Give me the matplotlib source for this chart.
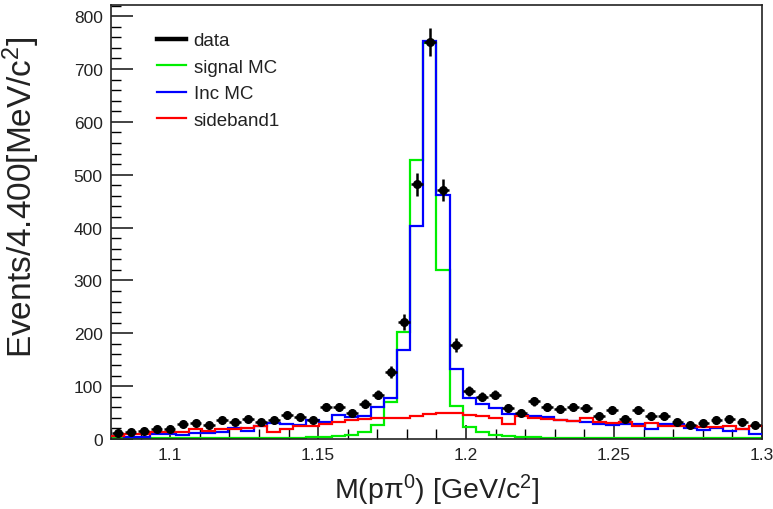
import numpy as np
import matplotlib
matplotlib.use("Agg")
import matplotlib.pyplot as plt
from matplotlib.lines import Line2D
from matplotlib.ticker import MultipleLocator

plt.rcParams['font.family'] = ['Liberation Sans', 'DejaVu Sans']
plt.rcParams['mathtext.fontset'] = 'custom'
plt.rcParams['mathtext.rm'] = 'Liberation Sans'
plt.rcParams['mathtext.it'] = 'Liberation Sans:italic'

x_min, x_max, n_bins = 1.08, 1.30, 50
edges = np.linspace(x_min, x_max, n_bins + 1)
centers = 0.5 * (edges[:-1] + edges[1:])

data = [11, 14, 16, 18, 18, 28, 30, 26, 35, 32,
        38, 32, 35, 45, 41, 36, 60, 60, 49, 67,
        84, 127, 222, 482, 751, 471, 178, 91, 80, 84,
        59, 50, 71, 60, 57, 60, 58, 44, 55, 38,
        54, 43, 43, 32, 26, 30, 35, 38, 33, 26]

inc_mc = [6, 4, 4, 9, 9, 7, 12, 12, 14, 20,
          16, 25, 31, 28, 27, 35, 32, 45, 41, 43,
          60, 78, 168, 402, 752, 462, 132, 78, 67, 58,
          48, 45, 44, 42, 35, 34, 32, 29, 27, 28,
          28, 19, 29, 29, 21, 17, 20, 15, 19, 9]

sideband = [6, 9, 9, 14, 14, 14, 19, 15, 19, 18,
            20, 25, 13, 19, 24, 25, 29, 32, 35, 38,
            40, 40, 39, 43, 47, 50, 50, 45, 43, 39,
            28, 44, 39, 38, 36, 34, 39, 32, 30, 32,
            25, 31, 25, 25, 25, 22, 22, 25, 19, 25]

signal_mc = [1, 1, 1, 1, 1, 1, 1, 1, 1, 1,
             1, 2, 2, 2, 2, 3, 4, 6, 8, 14,
             27, 70, 202, 528, 750, 320, 63, 22, 13, 8,
             6, 4, 3, 2, 2, 2, 1, 1, 1, 1,
             1, 1, 1, 1, 1, 1, 1, 1, 1, 1]

labels = ["data", "signal MC", "Inc MC", "sideband1"]

fig = plt.figure(figsize=(7.73, 5.10), dpi=100)
ax = fig.add_axes([111/773, 1 - 440/510, (762 - 111)/773, (440 - 6)/510])

lw = 1.6
ax.stairs(signal_mc, edges, baseline=None, color="#00ee00", lw=lw, zorder=2)
ax.stairs(inc_mc, edges, baseline=None, color="#0000ff", lw=lw, zorder=3)
ax.stairs(sideband, edges, baseline=None, color="#ff0000", lw=lw, zorder=4)

d = np.array(data, dtype=float)
ax.errorbar(centers, d, yerr=np.sqrt(d), xerr=0.5 * (edges[1] - edges[0]) * 0.9,
            fmt='o', color='black', ms=5.5, elinewidth=1.8, capsize=0, zorder=5)

ax.set_xlim(x_min, x_max)
ax.set_ylim(0, 821)
ax.xaxis.set_minor_locator(MultipleLocator(0.01))
ax.yaxis.set_major_locator(MultipleLocator(100))
ax.yaxis.set_minor_locator(MultipleLocator(20))
ax.set_xticks([1.1, 1.15, 1.2, 1.25, 1.3])
ax.set_xticklabels(["1.1", "1.15", "1.2", "1.25", "1.3"])
ax.tick_params(axis='both', which='major', direction='in', length=16, width=1.2,
               labelsize=12.5, colors='#222222', pad=6, top=False, right=False)
ax.tick_params(axis='x', which='major', length=10)
ax.tick_params(axis='both', which='minor', direction='in', length=7, width=1.0,
               top=False, right=False)
for s in ax.spines.values():
    s.set_linewidth(1.2)
    s.set_color('#222222')

ax.set_xlabel("M(pπ$^0$) [GeV/c$^2$]", fontsize=20.5, color='#222222', labelpad=7)
ax.set_ylabel("Events/4.400[MeV/c$^2$]", fontsize=24, color='#222222')
ax.yaxis.set_label_coords(-0.106, 0.56)

handles = [Line2D([], [], color='black', lw=3.2),
           Line2D([], [], color='#00ee00', lw=1.6),
           Line2D([], [], color='#0000ff', lw=1.6),
           Line2D([], [], color='#ff0000', lw=1.6)]
ax.legend(handles, labels, loc='upper left', bbox_to_anchor=(0.045, 0.976),
          frameon=False, fontsize=13.5, handlelength=1.55, handletextpad=0.4,
          labelspacing=0.5, labelcolor='#222222')

fig.savefig("out.png", dpi=100)
